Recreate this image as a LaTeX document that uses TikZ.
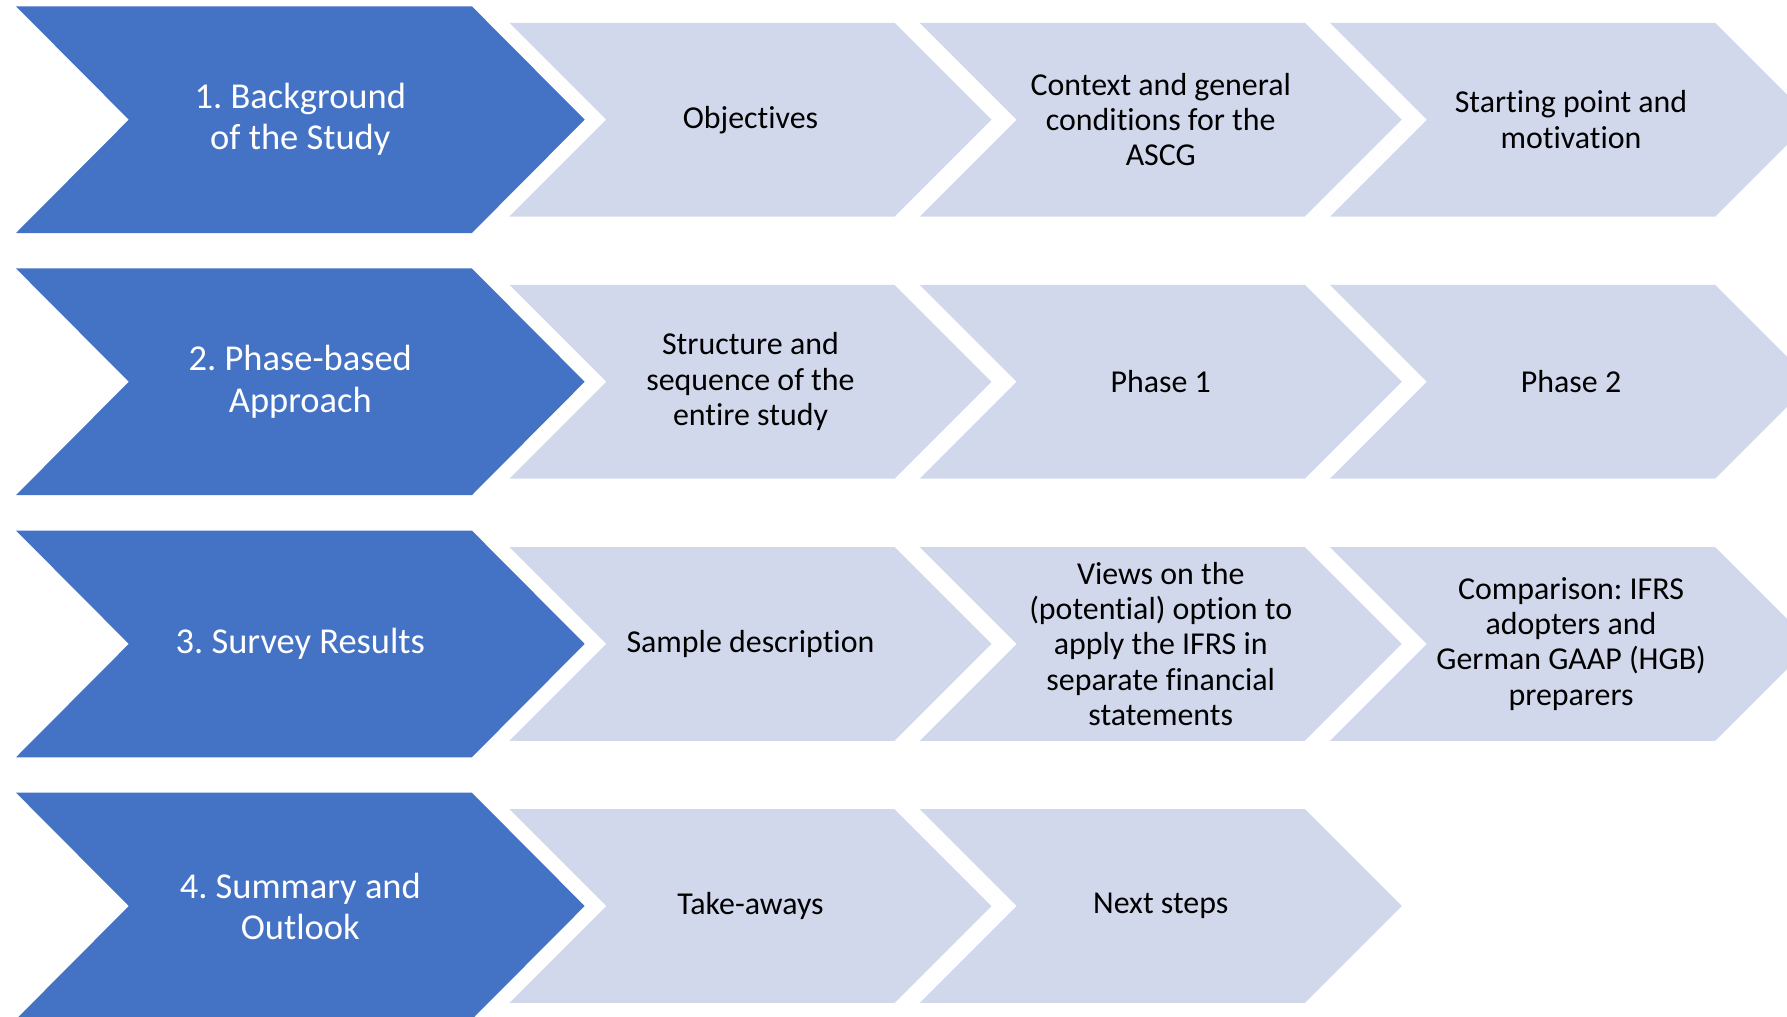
\documentclass[tikz,border=0pt]{standalone}
\usepackage{fontspec}
\setmainfont{Carlito}[Ligatures={NoCommon}]
\definecolor{darkblue}{HTML}{4472C4}
\definecolor{lightblue}{HTML}{D1D8EB}
\frenchspacing
\begin{document}
\begin{tikzpicture}[x=0.5pt,y=-0.5pt,
  darktxt/.style={text=white, align=center, inner sep=0pt, font=\fontsize{16}{18}\selectfont},
  lighttxt/.style={text=black, align=center, inner sep=0pt, font=\fontsize{14}{15.5}\selectfont}]
\useasboundingbox (0,0) rectangle (1568,892);
\begin{scope}
\clip (0,0) rectangle (1568,892);
% dark chevrons
\foreach \r in {0,...,3}{
  \pgfmathsetmacro\m{105+230*\r}
  \fill[darkblue] (14,\m-99.5) -- (414,\m-99.5) -- (513,\m) -- (414,\m+99.5) -- (14,\m+99.5) -- (113,\m) -- cycle;
}
% light chevrons
\foreach \r/\c in {0/0,0/1,0/2,1/0,1/1,1/2,2/0,2/1,2/2,3/0,3/1}{
  \pgfmathsetmacro\m{105+230*\r}
  \pgfmathsetmacro\L{447+360*\c}
  \fill[lightblue] (\L,\m-85) -- (\L+338,\m-85) -- (\L+423,\m) -- (\L+338,\m+85) -- (\L,\m+85) -- (\L+85,\m) -- cycle;
}
\end{scope}
% texts
\node[darktxt] (d1) at (263.5,105) {1. Background\\of the Study};
\node[darktxt] (d2) at (263.5,335) {2. Phase-based\\Approach};
\node[darktxt] (d3) at (263.5,565) {3. Survey Results};
\node[darktxt] (d4) at (263.5,795) {4. Summary and\\Outlook};
\node[lighttxt] (a1) at (658.5,105) {Objectives};
\node[lighttxt] (a2) at (1018.5,105) {Context and general\\conditions for the\\ASCG};
\node[lighttxt] (a3) at (1378.5,105) {Starting point and\\motivation};
\node[lighttxt] (b1) at (658.5,335) {Structure and\\sequence of the\\entire study};
\node[lighttxt] (b2) at (1018.5,335) {Phase 1};
\node[lighttxt] (b3) at (1378.5,335) {Phase 2};
\node[lighttxt] (c1) at (658.5,565) {Sample description};
\node[lighttxt] (c2) at (1018.5,565) {Views on the\\(potential) option to\\apply the IFRS in\\separate financial\\statements};
\node[lighttxt] (c3) at (1378.5,565) {Comparison: IFRS\\adopters and\\German GAAP (HGB)\\preparers};
\node[lighttxt] (e1) at (658.5,795) {Take-aways};
\node[lighttxt] (e2) at (1018.5,795) {Next steps};
\end{tikzpicture}
\end{document}
